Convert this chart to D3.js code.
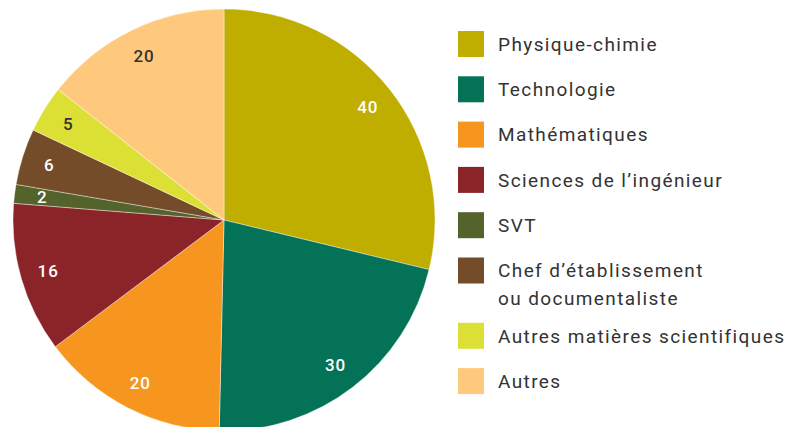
<!DOCTYPE html>
<html>
<head>
<meta charset="utf-8">
<script src="https://cdn.jsdelivr.net/npm/d3@7"></script>
<style>
  html, body { margin: 0; padding: 0; background: #fff; }
  #chart { width: 803px; height: 427px; overflow: hidden; }
  text { font-family: Roboto, "Open Sans", sans-serif; }
</style>
</head>
<body>
<div id="chart"></div>
<script>
// Données
const categories = ['Physique-chimie', 'Technologie', 'Mathématiques', 'Sciences de l\u2019ingénieur',
  'SVT', 'Chef d\u2019établissement\nou documentaliste', 'Autres matières scientifiques', 'Autres'];
const values = [40, 30, 20, 16, 2, 6, 5, 20];
const colors = ['#BFAE00', '#047257', '#F7961F', '#8B2429', '#54622C', '#744C29', '#DDE034', '#FFC97D'];
const labelColors = ['#fff', '#fff', '#fff', '#fff', '#fff', '#fff', '#333', '#333'];

const width = 803, height = 427;
const cx = 224, cy = 220, radius = 211;

const svg = d3.select('#chart')
  .append('svg')
  .attr('width', width)
  .attr('height', height);

const items = categories.map((c, i) => ({ name: c, value: values[i], color: colors[i], label: labelColors[i] }));

// Camembert
const pie = d3.pie().sort(null).value(d => d.value);
const arc = d3.arc().innerRadius(0).outerRadius(radius);
const labelArc = d3.arc().innerRadius(183).outerRadius(183);

const g = svg.append('g').attr('transform', `translate(${cx},${cy})`);

const arcs = pie(items);

g.selectAll('path')
  .data(arcs)
  .enter()
  .append('path')
  .attr('d', arc)
  .attr('fill', d => d.data.color)
  .attr('stroke', '#fff')
  .attr('stroke-width', 0.4);

g.selectAll('.slice-label')
  .data(arcs)
  .enter()
  .append('text')
  .attr('class', 'slice-label')
  .attr('transform', d => `translate(${labelArc.centroid(d)})`)
  .attr('text-anchor', 'middle')
  .attr('dy', '0.36em')
  .attr('fill', d => d.data.label)
  .style('font-size', '17px')
  .style('font-weight', '500')
  .style('letter-spacing', '1px')
  .text(d => d.data.value);

// Légende
const legend = svg.append('g').attr('transform', 'translate(458,0)');

const rows = legend.selectAll('.row')
  .data(items)
  .enter()
  .append('g')
  .attr('class', 'row')
  .attr('transform', (d, i) => `translate(0,${44 + 45.3 * i + (i > 5 ? 20 : 0)})`);

rows.append('rect')
  .attr('x', 0)
  .attr('y', -13)
  .attr('width', 26)
  .attr('height', 26)
  .attr('fill', d => d.color);

rows.append('text')
  .attr('x', 40)
  .attr('fill', '#333')
  .style('font-size', '19px')
  .style('letter-spacing', '1.4px')
  .selectAll('tspan')
  .data(d => d.name.split('\n'))
  .enter()
  .append('tspan')
  .attr('x', 40)
  .attr('dy', (t, i) => i === 0 ? '0.36em' : '28px')
  .text(t => t);
</script>
</body>
</html>
